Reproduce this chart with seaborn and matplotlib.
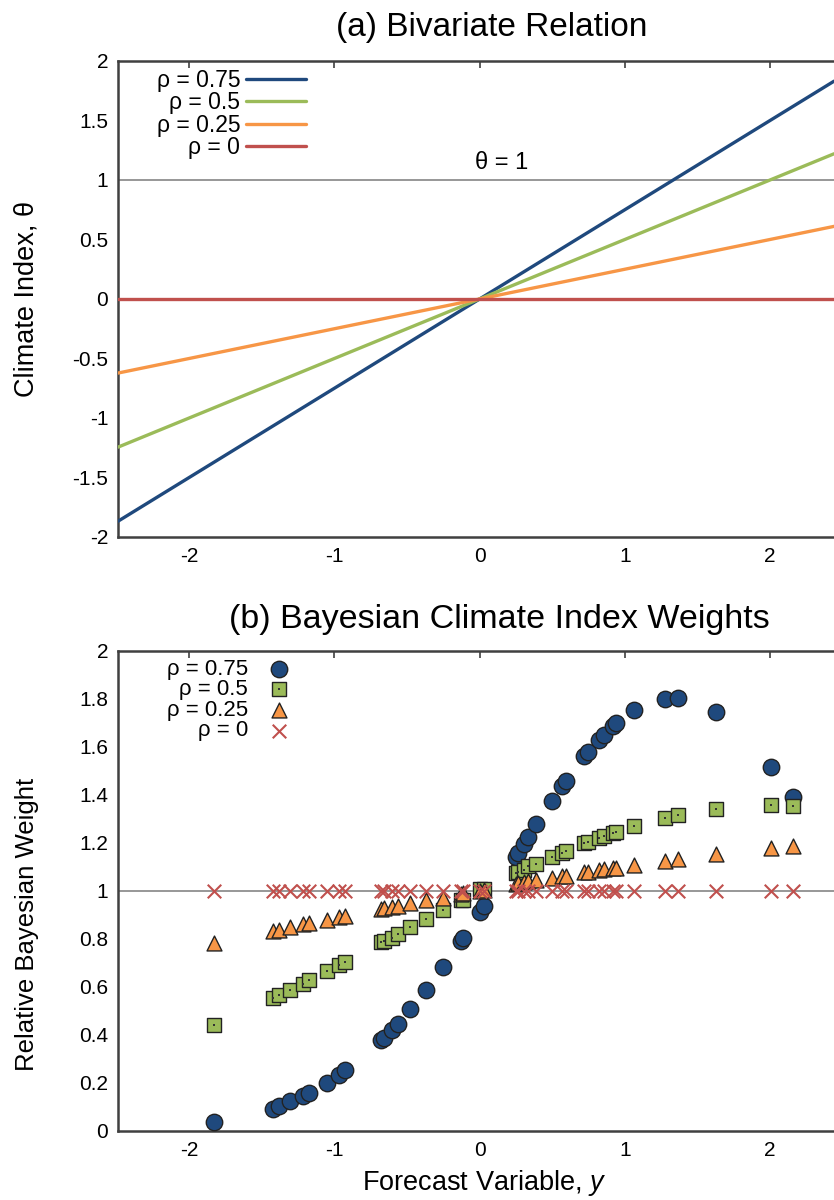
import matplotlib

matplotlib.use("Agg")

import matplotlib.pyplot as plt
import pandas as pd
import seaborn as sns

# ---- data ----
rho_labels = ["ρ = 0.75", "ρ = 0.5", "ρ = 0.25", "ρ = 0"]
colors = ["#1F497D", "#9BBB59", "#F79646", "#C0504D"]

# panel (a): straight lines theta = rho * y
y_line = [-2.49, 0.0, 2.44]
theta_075 = [-1.8675, 0.0, 1.83]
theta_050 = [-1.245, 0.0, 1.22]
theta_025 = [-0.6225, 0.0, 0.61]
theta_000 = [0.0, 0.0, 0.0]

# panel (b): observed forecast values and relative weights
y_obs = [
    -1.827, -1.425, -1.379, -1.306, -1.218, -1.177, -1.053, -0.966, -0.925, -0.679,
    -0.660, -0.605, -0.564, -0.477, -0.369, -0.250, -0.128, -0.112, 0.005, 0.032,
    0.251, 0.262, 0.304, 0.336, 0.388, 0.496, 0.565, 0.595, 0.721, 0.744,
    0.824, 0.855, 0.917, 0.939, 1.065, 1.277, 1.364, 1.628, 2.007, 2.156,
]
w_rho075 = [
    0.0375, 0.093, 0.104, 0.125, 0.145, 0.158, 0.200, 0.235, 0.253, 0.378,
    0.389, 0.420, 0.447, 0.508, 0.589, 0.683, 0.792, 0.803, 0.913, 0.9375,
    1.142, 1.158, 1.197, 1.225, 1.278, 1.375, 1.436, 1.458, 1.561, 1.578,
    1.631, 1.652, 1.686, 1.700, 1.756, 1.802, 1.804, 1.746, 1.517, 1.392,
]
w_rho050 = [
    0.443, 0.554, 0.565, 0.589, 0.614, 0.628, 0.665, 0.692, 0.704, 0.786,
    0.790, 0.806, 0.820, 0.850, 0.883, 0.920, 0.961, 0.964, 1.007, 1.010,
    1.075, 1.079, 1.089, 1.103, 1.114, 1.142, 1.160, 1.167, 1.200, 1.204,
    1.222, 1.228, 1.242, 1.246, 1.271, 1.304, 1.317, 1.343, 1.358, 1.356,
]
w_rho025 = [
    0.783, 0.833, 0.839, 0.850, 0.861, 0.867, 0.881, 0.892, 0.896, 0.927,
    0.928, 0.933, 0.9375, 0.950, 0.961, 0.972, 0.989, 0.990, 1.000, 1.003,
    1.031, 1.033, 1.0375, 1.042, 1.045, 1.053, 1.061, 1.064, 1.078, 1.081,
    1.089, 1.092, 1.096, 1.0975, 1.107, 1.125, 1.133, 1.153, 1.181, 1.189,
]
w_rho000 = [
    1.0, 1.0, 1.0, 1.0, 1.0, 1.0, 1.0, 1.0, 1.0, 1.0,
    1.0, 1.0, 1.0, 1.0, 1.0, 1.0, 1.0, 1.0, 1.0, 1.0,
    1.0, 1.0, 1.0, 1.0, 1.0, 1.0, 1.0, 1.0, 1.0, 1.0,
    1.0, 1.0, 1.0, 1.0, 1.0, 1.0, 1.0, 1.0, 1.0, 1.0,
]

top_yticks = [-2, -1.5, -1, -0.5, 0, 0.5, 1, 1.5, 2]
bot_yticks = [0, 0.2, 0.4, 0.6, 0.8, 1, 1.2, 1.4, 1.6, 1.8, 2]
xticks = [-2, -1, 0, 1, 2]

sns.set_style("white")
plt.rcParams["font.family"] = ["Liberation Sans", "DejaVu Sans"]
plt.rcParams["axes.unicode_minus"] = False
plt.rcParams["mathtext.fontset"] = "custom"
plt.rcParams["mathtext.it"] = "Liberation Sans:italic"
plt.rcParams["mathtext.rm"] = "Liberation Sans"
plt.rcParams["text.color"] = "black"

SPINE = "#404040"
GUIDE = "#7a7a7a"

fig = plt.figure(figsize=(8.34, 12), dpi=100)
ax_a = fig.add_axes([0.1415, 0.5525, 0.8585, 0.3967])
ax_b = fig.add_axes([0.1415, 0.0575, 0.8585, 0.4])


def style_axes(ax, yticks, ylim):
    ax.set_xlim(-2.49, 2.44)
    ax.set_ylim(*ylim)
    ax.set_xticks(xticks)
    ax.set_xticklabels([f"{t:g}" for t in xticks])
    ax.set_yticks(yticks)
    ax.set_yticklabels([f"{t:g}" for t in yticks])
    ax.tick_params(direction="in", length=5, width=1.2, color=SPINE,
                   labelcolor="black", top=True, right=False,
                   labelsize=15, pad=7)
    for side in ["top", "bottom", "left"]:
        ax.spines[side].set_color(SPINE)
        ax.spines[side].set_linewidth(1.8)
    ax.spines["right"].set_visible(False)
    ax.set_xlabel("")
    ax.set_ylabel("")


# ---- panel (a) ----
ax_a.axhline(1.0, color=GUIDE, lw=1.1, zorder=1)
for theta, lab, col in zip([theta_075, theta_050, theta_025, theta_000],
                           rho_labels, colors):
    frame = pd.DataFrame({"y": y_line, "theta": theta})
    sns.lineplot(data=frame, x="y", y="theta", ax=ax_a, color=col, lw=2.4,
                 label=lab, zorder=3)
ax_a.text(0.15, 1.05, "θ = 1", ha="center", va="bottom", fontsize=17)
style_axes(ax_a, top_yticks, (-2, 2))
ax_a.legend(loc="upper left", bbox_to_anchor=(0.054, 0.984), frameon=False,
            markerfirst=False, fontsize=16.5, handlelength=2.6,
            handletextpad=0.25, labelspacing=-0.02, borderpad=0,
            borderaxespad=0)

# ---- panel (b) ----
ax_b.axhline(1.0, color=GUIDE, lw=1.1, zorder=1)
sns.scatterplot(x=y_obs, y=w_rho075, ax=ax_b, marker="o", s=140,
                color=colors[0], edgecolor="#222222", linewidth=1.0, zorder=3)
h_circ = ax_b.collections[-1]
sns.scatterplot(x=y_obs, y=w_rho050, ax=ax_b, marker="s", s=105,
                color=colors[1], edgecolor="#222222", linewidth=1.0, zorder=4)
h_sq = ax_b.collections[-1]
sns.scatterplot(x=y_obs, y=w_rho050, ax=ax_b, marker="s", s=2,
                color="#333333", edgecolor="none", linewidth=0, zorder=4.5)
h_dot = ax_b.collections[-1]
sns.scatterplot(x=y_obs, y=w_rho025, ax=ax_b, marker="^", s=115,
                color=colors[2], edgecolor="#222222", linewidth=1.0, zorder=5)
h_tri = ax_b.collections[-1]
sns.scatterplot(x=y_obs, y=w_rho000, ax=ax_b, marker="x", s=95,
                color=colors[3], linewidth=1.5, zorder=6)
h_x = ax_b.collections[-1]
style_axes(ax_b, bot_yticks, (0, 2))
ax_b.legend([h_circ, (h_sq, h_dot), h_tri, h_x], rho_labels,
            loc="upper left", bbox_to_anchor=(0.068, 0.984), frameon=False,
            markerfirst=False, fontsize=16, handlelength=1.2,
            handletextpad=0.8, labelspacing=-0.02, borderpad=0,
            borderaxespad=0, scatterpoints=1)

# ---- titles and axis labels ----
fig.text(0.589, 0.977, "(a) Bivariate Relation", ha="center", va="center",
         fontsize=24)
fig.text(0.599, 0.484, "(b) Bayesian Climate Index Weights", ha="center",
         va="center", fontsize=24.5)
fig.text(0.032, 0.7505, "Climate Index, θ", rotation=90, ha="center",
         va="center", fontsize=19.5)
fig.text(0.032, 0.23, "Relative Bayesian Weight", rotation=90, ha="center",
         va="center", fontsize=18.5)
fig.text(0.581, 0.0145, "Forecast Variable, $y$", ha="center", va="center",
         fontsize=19.5)

fig.savefig("out.png", dpi=100)
